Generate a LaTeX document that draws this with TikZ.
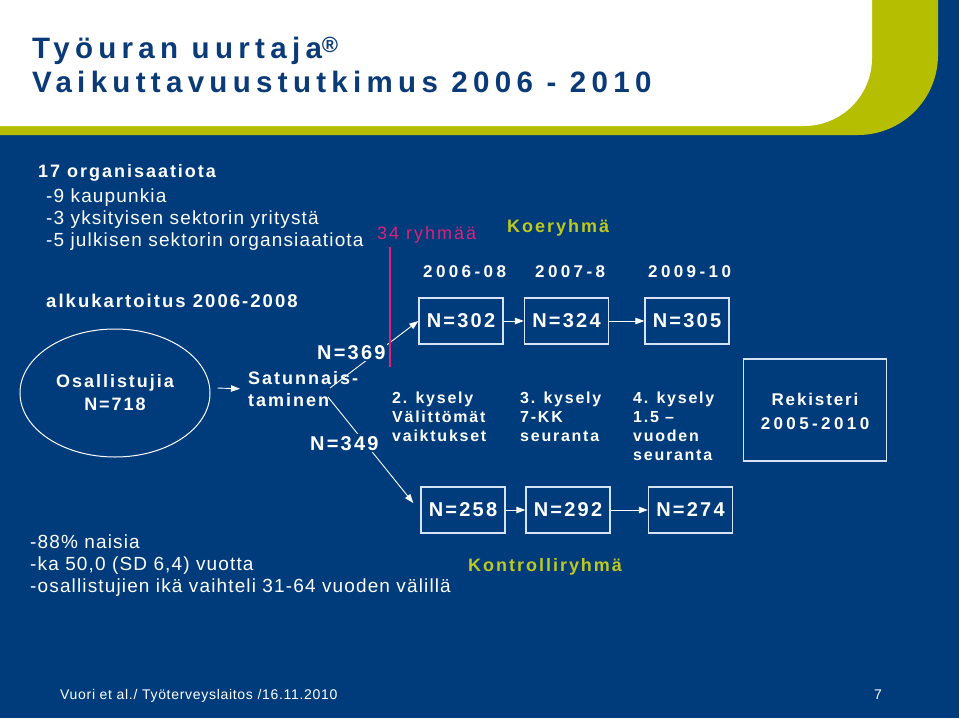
\documentclass[tikz,border=0pt]{standalone}
\usepackage{fontspec}
\setmainfont{Liberation Sans}
\newfontfamily\fr[LetterSpace=6]{Liberation Sans}
\newfontfamily\fb[LetterSpace=11]{Liberation Sans}
\newfontfamily\fw[LetterSpace=20]{Liberation Sans}
\newfontfamily\fp[LetterSpace=11]{Liberation Sans}
\newfontfamily\ft[LetterSpace=18]{Liberation Sans}
\newfontfamily\ff[LetterSpace=5]{Liberation Sans}
\usetikzlibrary{arrows.meta,shapes.geometric}
\definecolor{fblue}{RGB}{0,60,124}
\definecolor{fgreen}{RGB}{181,190,0}
\definecolor{fpink}{RGB}{222,32,122}
\definecolor{ftitle}{RGB}{10,58,120}
\definecolor{flime}{RGB}{190,200,30}
\definecolor{boxline}{RGB}{215,228,245}
\begin{document}
\begin{tikzpicture}[x=1pt,y=-1pt,
  base/.style={inner sep=0pt, anchor=base west, text=white},
  reg/.style={base, font=\fr\fontsize{19}{22}\selectfont},
  bld/.style={base, font=\fb\bfseries\fontsize{18}{22}\selectfont},
  kys/.style={base, align=left, font=\fb\bfseries\fontsize{16}{19}\selectfont},
  yr/.style={base, font=\fw\bfseries\fontsize{17}{20}\selectfont},
  nlab/.style={inner sep=2pt, anchor=base west, text=white, fill=fblue, font=\fb\bfseries\fontsize{20}{22}\selectfont},
  nbox/.style={draw=boxline, line width=1.4pt, minimum width=84pt, minimum height=46pt, inner sep=0pt, text=white, font=\fb\bfseries\fontsize{20}{22}\selectfont},
  arr/.style={draw=white, line width=0.9pt, -{Triangle[length=9pt,width=6.5pt]}},
  title/.style={inner sep=0pt, anchor=base west, text=ftitle, font=\ft\bfseries\fontsize{29.5}{34}\selectfont}]
\useasboundingbox (0,0) rectangle (959,718);
% background
\fill[fblue] (0,0) rectangle (959,718);
\fill[fgreen, rounded corners=80pt] (-200,-200) rectangle (938,135);
\fill[white, rounded corners=68pt] (-200,-200) rectangle (872,126);
% title
\node[title] (t1) at (32,58) {Työuran uurtaja\raisebox{6pt}{\fontsize{22}{24}\selectfont ®}};
\node[title] (t2) at (32,92) {Vaikuttavuustutkimus 2006 - 2010};
% left texts
\node[bld] (o1) at (38,177) {17 organisaatiota};
\node[reg] (o2) at (46,202) {-9 kaupunkia};
\node[reg] (o3) at (46,224) {-3 yksityisen sektorin yritystä};
\node[reg] (o4) at (46,246) {-5 julkisen sektorin organsiaatiota};
\node[bld, font=\fb\bfseries\fontsize{18.5}{22}\selectfont] (alku) at (46,307) {alkukartoitus 2006-2008};
% ellipse
\node[draw=white, line width=1pt, ellipse, minimum width=190pt, minimum height=128pt, inner sep=0pt,
      text=white, align=center, font=\fb\bfseries\fontsize{18}{23}\selectfont] (ell) at (115,393) {Osallistujia\\N=718};
\node[base, align=left, font=\fb\bfseries\fontsize{18}{22}\selectfont, anchor=north west] (sat) at (248,371) {Satunnais-\\taminen};
\draw[arr] ([shift={(7,-5)}]ell.east) -- ([shift={(-8,0)}]sat.west);
% group labels
\node[base, text=fpink, font=\fp\fontsize{18}{20}\selectfont] (ryh) at (377,239) {34 ryhmää};
\node[base, text=flime, font=\fb\bfseries\fontsize{18}{20}\selectfont] (koe) at (507,232) {Koeryhmä};
\node[yr] (y1) at (423,277) {2006-08};
\node[yr] (y2) at (535,277) {2007-8};
\node[yr] (y3) at (648,277) {2009-10};
% boxes
\node[nbox] (b1) at (461,321) {N=302};
\node[nbox] (b2) at (566.5,321) {N=324};
\node[nbox] (b3) at (687,321) {N=305};
\node[nbox] (c1) at (463,510) {N=258};
\node[nbox] (c2) at (568,510) {N=292};
\node[nbox] (c3) at (690.5,510) {N=274};
\draw[arr] (b1) -- (b2);
\draw[arr] (b2) -- (b3);
\draw[arr] (c1) -- (c2);
\draw[arr] (c2) -- (c3);
% randomisation arrows
\coordinate (sp1) at (330,388);
\coordinate (sp2) at (328,397);
\draw[arr] (sp1) -- (b1.west);
\draw[arr] (sp2) -- ([shift={(-7,-7)}]c1.west);
\node[nlab] (n369) at (315,359) {N=369};
\node[nlab] (n349) at (308,450) {N=349};
\coordinate (pk1) at (390,247);
\coordinate (pk2) at (390,367);
\draw[fpink, line width=1.4pt] (pk1) -- (pk2);
% kysely (base anchor = last line)
\node[kys] (k1) at (392,441) {2. kysely\\Välittömät\\vaiktukset};
\node[kys] (k2) at (520,441) {3. kysely\\7-KK\\seuranta};
\node[kys] (k3) at (633,460) {4. kysely\\1.5 –\\vuoden\\seuranta};
% register
\node[draw=boxline, line width=1.4pt, minimum width=143pt, minimum height=102pt, inner sep=0pt] (rek) at (815,410) {};
\node[inner sep=0pt, anchor=base, text=white, font=\fb\bfseries\fontsize{17}{20}\selectfont] (rek1) at (815,405) {Rekisteri};
\node[inner sep=0pt, anchor=base, text=white, font=\fw\bfseries\fontsize{17}{20}\selectfont] (rek2) at (815,429) {2005-2010};
% control group
\node[base, text=flime, font=\fb\bfseries\fontsize{18}{20}\selectfont] (kon) at (468,571) {Kontrolliryhmä};
\node[reg] (p1) at (30,548) {-88\% naisia};
\node[reg] (p2) at (30,570) {-ka 50,0 (SD 6,4) vuotta};
\node[reg] (p3) at (30,592) {-osallistujien ikä vaihteli 31-64 vuoden välillä};
% footer
\node[base, font=\ff\fontsize{14}{16}\selectfont] (foot) at (60,699) {Vuori et al./ Työterveyslaitos /16.11.2010};
\node[base, font=\ff\fontsize{14}{16}\selectfont] (pg) at (874,699) {7};
\end{tikzpicture}
\end{document}
